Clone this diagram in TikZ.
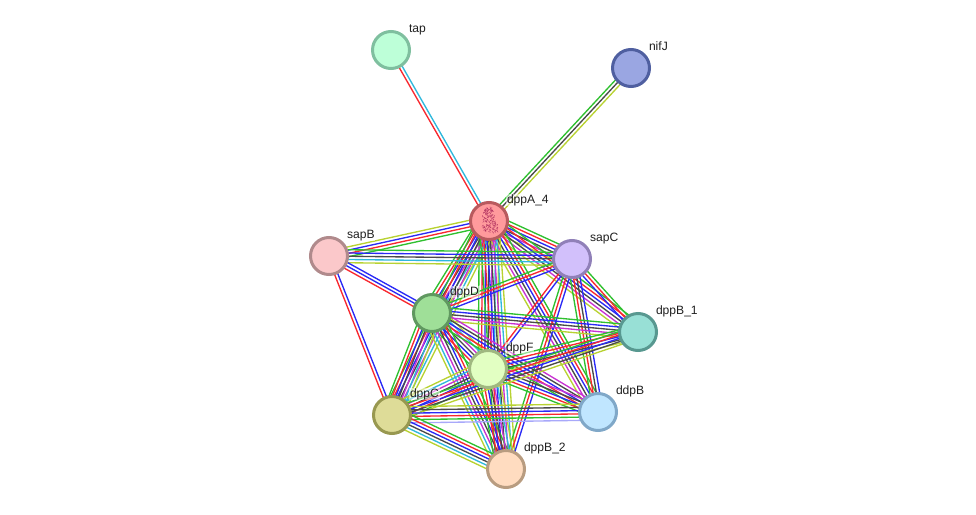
\documentclass[tikz,border=0pt]{standalone}
\usepackage{fontspec}
\setmainfont{Liberation Sans}
\usetikzlibrary{calc}

% evidence channel colours
\definecolor{chG}{HTML}{2FC02F}
\definecolor{chR}{HTML}{F8282F}
\definecolor{chB}{HTML}{2A2AF5}
\definecolor{chP}{HTML}{A8A8FA}
\definecolor{chK}{HTML}{4A4A4A}
\definecolor{chM}{HTML}{C832D2}
\definecolor{chC}{HTML}{2FB8DC}
\definecolor{chY}{HTML}{B8D232}

% protein disc colours: rim and fill
\definecolor{tapE}{HTML}{7FBF9F}\definecolor{tapF}{HTML}{BDFFD8}
\definecolor{nifE}{HTML}{4F5FA0}\definecolor{nifF}{HTML}{9AA6E2}
\definecolor{dpaE}{HTML}{B85A5E}\definecolor{dpaF}{HTML}{FF9A9C}
\definecolor{sbE}{HTML}{B08A8C}\definecolor{sbF}{HTML}{FBC8CA}
\definecolor{scE}{HTML}{9080B8}\definecolor{scF}{HTML}{D2C0FB}
\definecolor{ddE}{HTML}{609860}\definecolor{ddF}{HTML}{9FDF98}
\definecolor{b1E}{HTML}{589890}\definecolor{b1F}{HTML}{98E0D6}
\definecolor{dfE}{HTML}{A0B880}\definecolor{dfF}{HTML}{E2FFC2}
\definecolor{dbE}{HTML}{80A8C8}\definecolor{dbF}{HTML}{C0E6FF}
\definecolor{dcE}{HTML}{989850}\definecolor{dcF}{HTML}{DEDC98}
\definecolor{b2E}{HTML}{B89C80}\definecolor{b2F}{HTML}{FFDCC0}
\definecolor{fold}{HTML}{B0305F}

\pgfdeclarelayer{bundles}
\pgfsetlayers{bundles,main}

\tikzset{
  x=1pt, y=-1pt,
  protein/.style={circle, minimum size=37pt, inner sep=0pt, line width=3pt,
    draw=#1E, fill=#1F},
  plabel/.style={anchor=base west, font=\fontsize{12.1}{14}\selectfont, text=black!88,
    inner sep=0.6pt, fill=white, fill opacity=0.5, text opacity=1},
  channel/.style={line width=1.35pt},
}

% One bundle of parallel evidence lines between two named nodes, centred on their axis;
% the first colour lies on the left when looking from #1 to #2.
\newcommand{\bundle}[3]{%
  \foreach \c [count=\n] in {#3} {\xdef\bundlesize{\n}}%
  \foreach \c [count=\n] in {#3} {%
    \pgfmathsetmacro{\off}{((\bundlesize+1)/2-\n)*3.25}%
    \draw[channel, color=ch\c]
      ($(#1)!\off pt!90:(#2)$) -- ($(#2)!\off pt!-90:(#1)$);
  }%
}
\newcommand{\plabelat}[2]{\node[plabel] (#1label) at ($(#1)+(17.2,-18)$) {#2};}

\begin{document}
\begin{tikzpicture}
\useasboundingbox (0,0) rectangle (976,514);

% Proteins
\node[protein=tap] (tap) at (391,50) {};
\node[protein=nif] (nifJ) at (631,68) {};
\node[protein=dpa] (dppA) at (489,221) {};
\node[protein=sb] (sapB) at (329,256) {};
\node[protein=sc] (sapC) at (572,259) {};
\node[protein=dd] (dppD) at (432,313) {};
\node[protein=b1] (dppBa) at (638,332) {};
\node[protein=df] (dppF) at (488,369) {};
\node[protein=db] (ddpB) at (598,412) {};
\node[protein=dc] (dppC) at (392,415) {};
\node[protein=b2] (dppBb) at (506,469) {};

% Evidence bundles, kept behind the discs
\begin{pgfonlayer}{bundles}
\bundle{dppA}{tap}{R,C}
\bundle{dppA}{nifJ}{G,K,Y}
\bundle{dppA}{sapB}{G,R,B,Y}
\bundle{dppA}{sapC}{G,R,B,K,M,Y}
\bundle{dppD}{dppA}{G,R,B,K,M,C,Y}
\bundle{dppA}{dppBa}{G,R,B,K,M,Y}
\bundle{dppF}{dppA}{G,R,B,K,M,C,Y}
\bundle{dppA}{ddpB}{G,R,B,K,M,Y}
\bundle{dppC}{dppA}{G,R,B,K,M,C,Y}
\bundle{dppBb}{dppA}{G,R,B,K,M,C,Y}
\bundle{sapB}{sapC}{G,B,K,C,Y}
\bundle{sapB}{dppD}{B,B,R}
\bundle{sapB}{dppC}{B,R}
\bundle{dppD}{sapC}{G,R,B}
\bundle{sapC}{dppBa}{G,R,B}
\bundle{dppF}{sapC}{R,B}
\bundle{ddpB}{sapC}{G,R,K,B}
\bundle{dppBb}{sapC}{G,R,B}
\bundle{dppD}{dppBa}{G,B,K,M,Y}
\bundle{dppF}{dppD}{G,R,B,K,M,C,Y}
\bundle{ddpB}{dppD}{G,R,B,K,M}
\bundle{dppC}{dppD}{G,R,B,K,M,C,Y}
\bundle{dppD}{dppBb}{G,R,B,K,M,C,Y}
\bundle{dppF}{dppBa}{G,R,B,K,Y}
\bundle{ddpB}{dppF}{G,R,B,K,M}
\bundle{dppF}{dppC}{G,R,B,K,M,C,Y}
\bundle{dppBb}{dppF}{G,R,B,K,M,C,Y}
\bundle{dppC}{dppBa}{G,R,B,K,Y}
\bundle{ddpB}{dppC}{P,G,R,B,K,Y}
\bundle{dppC}{dppBb}{G,R,B,K,C,Y}
\end{pgfonlayer}

% Fold sketch inside the dppA_4 disc
\pgfmathsetseed{4711}
\foreach \i in {1,...,130} {
  \pgfmathsetmacro{\ty}{rnd}
  \pgfmathsetmacro{\hw}{1.5+7.5*sqrt(\ty)*(1.15-0.35*\ty)}
  \pgfmathsetmacro{\px}{489.5+(\ty-0.5)*2+\hw*(2*rnd-1)}
  \pgfmathsetmacro{\py}{208+24*\ty}
  \draw[fold, line width=0.4pt, line cap=round]
    (\px,\py) -- ++({2*(2*rnd-1)},{2*(2*rnd-1)});
}

% Names
\plabelat{tap}{tap}
\plabelat{nifJ}{nifJ}
\plabelat{dppA}{dppA\_4}
\plabelat{sapB}{sapB}
\plabelat{sapC}{sapC}
\plabelat{dppD}{dppD}
\plabelat{dppBa}{dppB\_1}
\plabelat{dppF}{dppF}
\plabelat{ddpB}{ddpB}
\plabelat{dppC}{dppC}
\plabelat{dppBb}{dppB\_2}
\end{tikzpicture}
\end{document}
